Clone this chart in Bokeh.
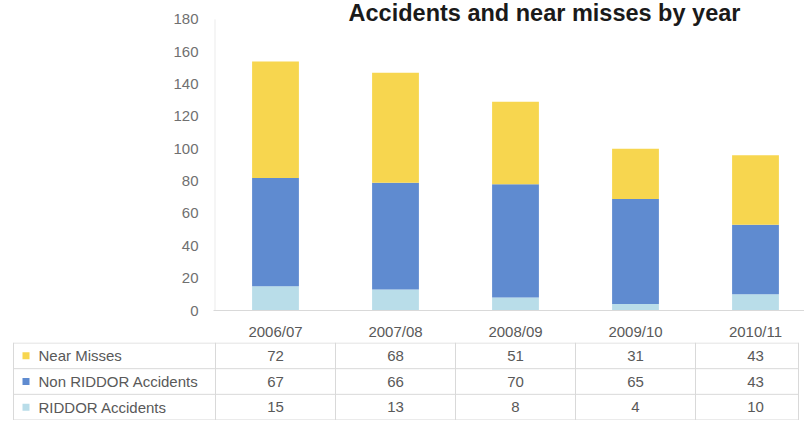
from bokeh.plotting import figure
from bokeh.models import Range1d, FixedTicker, ColumnDataSource
from bokeh.core.properties import value
from bokeh.embed import file_html
from bokeh.resources import INLINE

# ---- data ----
years = ["2006/07", "2007/08", "2008/09", "2009/10", "2010/11"]
near_misses = [72, 68, 51, 31, 43]
non_riddor = [67, 66, 70, 65, 43]
riddor = [15, 13, 8, 4, 10]
series_names = ["Near Misses", "Non RIDDOR Accidents", "RIDDOR Accidents"]
y_ticks = [0, 20, 40, 60, 80, 100, 120, 140, 160, 180]
title_text = "Accidents and near misses by year"

C_NEAR = "#F7D64F"
C_NON = "#5F8BD0"
C_RID = "#B9DDE9"
TXT = "#595959"
GRID = "#d9d9d9"
FONT = "Liberation Sans"

xs = list(range(len(years)))
PX = 120.0          # pixels per category
X0 = 275.0          # pixel position of first category centre
X_START_CHART = (213 - X0) / PX
X_END = (804 - X0) / PX
X_START_TABLE = (0 - X0) / PX
Y_PX = 293 / 180.0  # pixels per unit on the value axis (0 at y=312, 180 at y=19)
Y_TOP = 180 + 19 / Y_PX

# ---- chart ----
p1 = figure(width=804, height=342, output_backend="svg", toolbar_location=None,
            x_range=Range1d(X_START_CHART, X_END), y_range=Range1d(0, Y_TOP),
            min_border_left=213, min_border_right=0, min_border_top=0,
            min_border_bottom=30)
p1.outline_line_color = None
p1.background_fill_color = "white"
p1.border_fill_color = "white"
p1.xgrid.grid_line_color = None
p1.ygrid.grid_line_color = None

src = ColumnDataSource(dict(x=xs, riddor=riddor, non=non_riddor, near=near_misses))
p1.vbar_stack(["riddor", "non", "near"], x="x", width=0.39, source=src,
              color=[C_RID, C_NON, C_NEAR], line_color=None)

# faint value-axis line, 0..180 only
p1.segment(x0=[X_START_CHART + 1.5 / PX], x1=[X_START_CHART + 1.5 / PX],
           y0=[0], y1=[y_ticks[-1]], line_color="#ebebeb", line_width=1)

p1.yaxis.ticker = FixedTicker(ticks=y_ticks)
p1.yaxis.axis_line_color = None
p1.yaxis.major_tick_line_color = None
p1.yaxis.minor_tick_line_color = None
p1.yaxis.major_tick_out = 0
p1.yaxis.major_tick_in = 0
p1.yaxis.major_label_standoff = 15
p1.yaxis.major_label_text_font = FONT
p1.yaxis.major_label_text_font_size = "15px"
p1.yaxis.major_label_text_color = "#707070"

p1.xaxis.ticker = FixedTicker(ticks=xs)
p1.xaxis.major_label_overrides = {i: y for i, y in enumerate(years)}
p1.xaxis.axis_line_color = GRID
p1.xaxis.major_tick_line_color = None
p1.xaxis.minor_tick_line_color = None
p1.xaxis.major_tick_out = 0
p1.xaxis.major_tick_in = 0
p1.xaxis.major_label_standoff = 12
p1.xaxis.major_label_text_font = FONT
p1.xaxis.major_label_text_font_size = "15px"
p1.xaxis.major_label_text_color = TXT

# title (text glyph inside the frame, near the top edge)
p1.text(x=[(544 - X0) / PX], y=[Y_TOP - 13 / Y_PX], text=[title_text],
        text_align="center", text_baseline="alphabetic",
        text_font=value(FONT), text_font_style="bold",
        text_font_size="23.5px", text_color="#1a1a1a")

# ---- data table ----
p2 = figure(width=804, height=78, output_backend="svg", toolbar_location=None,
            x_range=Range1d(X_START_TABLE, X_END), y_range=Range1d(2.52, -0.52),
            min_border=0, min_border_left=0, min_border_right=0,
            min_border_top=0, min_border_bottom=0)
p2.outline_line_color = None
p2.axis.visible = False
p2.grid.grid_line_color = None
p2.background_fill_color = "white"
p2.border_fill_color = "white"

left_edge = (13 - X0) / PX
right_edge = (798 - X0) / PX
row_bounds = [-0.5, 0.5, 1.5, 2.5]
col_bounds = [left_edge] + [i - 0.5 for i in xs] + [right_edge]
p2.segment(x0=[left_edge] * len(row_bounds), x1=[right_edge] * len(row_bounds),
           y0=row_bounds, y1=row_bounds, line_color=GRID, line_width=1)
p2.segment(x0=col_bounds, x1=col_bounds, y0=[-0.52] * len(col_bounds),
           y1=[2.52] * len(col_bounds), line_color=GRID, line_width=1)

rows = [0, 1, 2]
p2.scatter(x=[(25.5 - X0) / PX] * 3, y=rows, marker="square", size=7,
           color=[C_NEAR, C_NON, C_RID], line_color=None)
p2.text(x=[(38 - X0) / PX] * 3, y=rows, text=series_names, text_align="left",
        text_baseline="middle", text_font=value(FONT), text_font_size="15px",
        text_color=TXT)

for r, vals in zip(rows, [near_misses, non_riddor, riddor]):
    p2.text(x=xs, y=[r] * len(xs), text=[str(v) for v in vals],
            text_align="center", text_baseline="middle", text_font=value(FONT),
            text_font_size="15px", text_color=TXT)

open("out.html", "w").write(file_html([p1, p2], INLINE))
